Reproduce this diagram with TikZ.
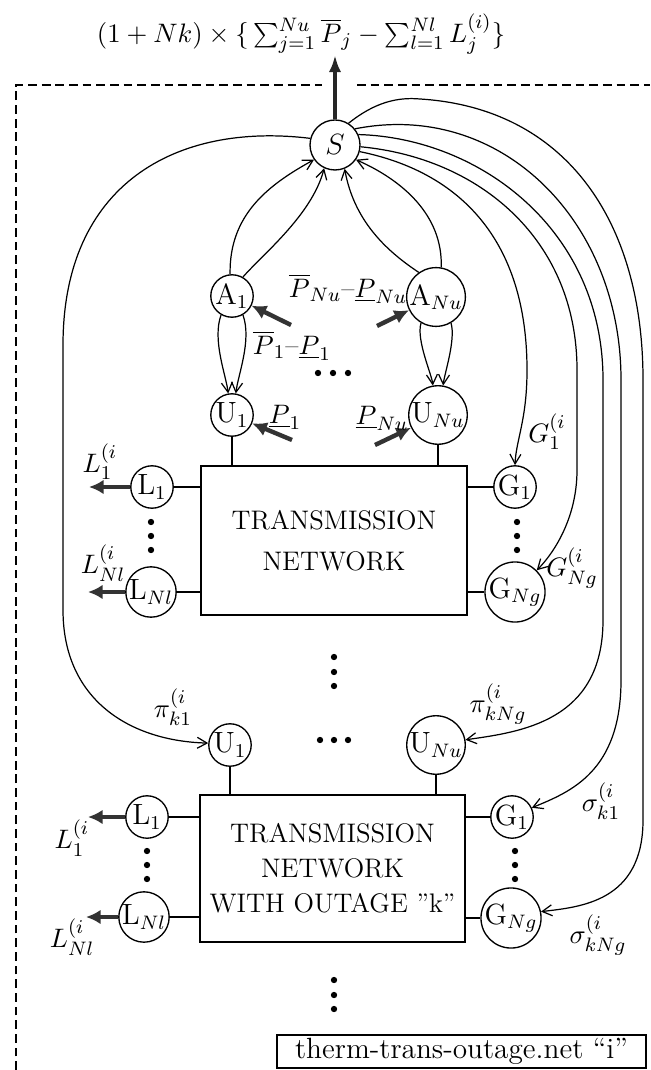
\documentclass[tikz,border=0pt]{standalone}
\usetikzlibrary{arrows.meta}
\begin{document}
\begin{tikzpicture}[x=0.41pt,y=-0.41pt,
  every node/.style={font=\fontsize{11}{13}\selectfont},
  circ/.style={circle,draw,line width=0.55pt,minimum size=17.4pt,inner sep=0pt,font=\fontsize{12}{14}\selectfont},
  bigcirc/.style={circ,minimum size=20.5pt},
  net/.style={draw,line width=0.85pt,inner sep=0pt,align=center},
  stub/.style={line width=0.9pt},
  arr/.style={line width=0.5pt,-{Straight Barb[length=4pt,width=4.5pt]}},
  fat/.style={line width=1.8pt,draw=black!80,-{Latex[length=6pt,width=6pt]}},
  dframe/.style={line width=0.5pt,dash pattern=on 3.6pt off 2pt},
  lbl/.style={inner sep=0pt}
]
\useasboundingbox (0,0) rectangle (650,1070);

% frame
\draw[dframe] (16,1070) -- (16,85) -- (322,85);
\draw[dframe] (357,85) -- (650,85);

% objective
\node[lbl] (obj) at (301,34) {$(1+Nk)\times\{\,\sum_{j=1}^{Nu}\overline{P}_j-\sum_{l=1}^{Nl}L_j^{(i)}\}$};

% nodes
\node[bigcirc] (S) at (335,145) {$S$};
\node[circ] (A1) at (232,296) {A$_1$};
\node[circ] (AN) at (436,297) {A$_{Nu}$};
\node[circ] (U1) at (232,415) {U$_1$};
\node[circ] (UN) at (438,415) {U$_{Nu}$};
\node[net,minimum width=109.1pt,minimum height=61.1pt,font=\fontsize{11}{16.8}\selectfont] (R1) at (334,540.5) {TRANSMISSION\\NETWORK};
\node[circ] (L1) at (152,487) {L$_1$};
\node[circ] (LN) at (151,592) {L$_{Nl}$};
\node[circ] (G1) at (515,487) {G$_1$};
\node[circ] (GN) at (515,592) {G$_{Ng}$};

\node[circ] (U1b) at (230,745) {U$_1$};
\node[circ] (UNb) at (436,745) {U$_{Nu}$};
\node[net,minimum width=108.7pt,minimum height=60.3pt,font=\fontsize{11}{14.4}\selectfont] (R2) at (332.5,868.5) {TRANSMISSION\\NETWORK\\WITH OUTAGE ''k''};
\node[circ] (L1b) at (147,817) {L$_1$};
\node[circ] (LNb) at (144,917) {L$_{Nl}$};
\node[circ] (G1b) at (512,817) {G$_1$};
\node[circ] (GNb) at (511,918) {G$_{Ng}$};

\node[draw,line width=0.8pt,minimum width=151.3pt,minimum height=13.5pt,inner sep=0pt,font=\fontsize{12}{14}\selectfont] (tag) at (461.5,1051.5) {therm-trans-outage.net ``i''};

% stubs
\draw[stub] (U1) -- (U1 |- R1.north);
\draw[stub] (UN) -- (UN |- R1.north);
\draw[stub] (L1) -- (L1 -| R1.west);
\draw[stub] (LN) -- (LN -| R1.west);
\draw[stub] (G1) -- (G1 -| R1.east);
\draw[stub] (GN) -- (GN -| R1.east);
\draw[stub] (U1b) -- (U1b |- R2.north);
\draw[stub] (UNb) -- (UNb |- R2.north);
\draw[stub] (L1b) -- (L1b -| R2.west);
\draw[stub] (LNb) -- (LNb -| R2.west);
\draw[stub] (G1b) -- (G1b -| R2.east);
\draw[stub] (GNb) -- (GNb -| R2.east);

% output arrow
\coordinate (top) at (335,55);
\draw[line width=1.6pt,draw=black!85,-{Latex[length=7pt,width=5pt]}] (S) -- (top);

% A -> S
\draw[arr] (A1.95) .. controls (229,215) and (268,185) .. (S.215);
\draw[arr] (A1.60) .. controls (262,255) and (312,215) .. (S.245);
\draw[arr] (AN.80) .. controls (443,215) and (402,180) .. (S.325);
\draw[arr] (AN.125) .. controls (385,250) and (354,220) .. (S.292);

% A -> U
\draw[arr] (A1.240) .. controls (212,340) and (226,375) .. (U1.100);
\draw[arr] (A1.300) .. controls (252,340) and (238,375) .. (U1.80);
\draw[arr] (AN.240) .. controls (416,340) and (432,375) .. (UN.100);
\draw[arr] (AN.300) .. controls (456,340) and (444,375) .. (UN.80);

% S -> left -> U1b
\draw[arr] (S.165) .. controls (175,122) and (63,185) .. (63,345) -- (63,610)
   .. controls (63,700) and (130,741) .. (U1b.175);
% S -> G1
\draw[arr] (S.-15) .. controls (460,172) and (527,240) .. (527,370)
   .. controls (527,420) and (516,440) .. (G1.north);
% S -> GN
\draw[arr] (S.-4) .. controls (480,158) and (577,240) .. (577,370) -- (577,470)
   .. controls (577,520) and (552,555) .. (GN.45);
% S -> UNb
\draw[arr] (S.24) .. controls (480,138) and (603,230) .. (603,380) -- (603,620)
   .. controls (603,722) and (520,732) .. (UNb.10);
% S -> G1b
\draw[arr] (S.39) .. controls (500,100) and (621,220) .. (621,380) -- (621,680)
   .. controls (621,772) and (570,792) .. (G1b.25);
% S -> GNb
\draw[arr] (S.58) .. controls (375,102) and (398,97) .. (420,99)
   .. controls (565,108) and (643,220) .. (643,380) -- (643,820)
   .. controls (643,902) and (580,907) .. (GNb.12);

% fat arrows
\coordinate (tA1) at (291,325);
\coordinate (tAN) at (377,326);
\coordinate (tU1) at (292,440);
\coordinate (tUN) at (375,445);
\draw[fat] (tA1) -- (A1);
\draw[fat] (tAN) -- (AN);
\draw[fat] (tU1) -- (U1);
\draw[fat] (tUN) -- (UN);
\coordinate (eL1) at (89,487);
\coordinate (eLN) at (88,592);
\coordinate (eL1b) at (88,817);
\coordinate (eLNb) at (86,917);
\draw[fat] (L1) -- (eL1);
\draw[fat] (LN) -- (eLN);
\draw[fat] (L1b) -- (eL1b);
\draw[fat] (LNb) -- (eLNb);

% labels
\node[lbl] (pN) at (348,289) {$\overline{P}_{Nu}\mbox{--}\underline{P}_{Nu}$};
\node[lbl] (p1) at (292,346) {$\overline{P}_1\mbox{--}\underline{P}_1$};
\node[lbl] (q1) at (285,417) {$\underline{P}_1$};
\node[lbl] (qN) at (382,418) {$\underline{P}_{Nu}$};
\node[lbl] (lL1) at (100,462) {$L_1^{(i}$};
\node[lbl] (lLN) at (103,563) {$L_{Nl}^{(i}$};
\node[lbl] (lG1) at (547,432) {$G_1^{(i}$};
\node[lbl] (lGN) at (572,568) {$G_{Ng}^{(i}$};
\node[lbl] (lpi1) at (173,707) {$\pi_{k1}^{(i}$};
\node[lbl] (lpiN) at (498,704) {$\pi_{kNg}^{(i}$};
\node[lbl] (lL1b) at (72,838) {$L_1^{(i}$};
\node[lbl] (lLNb) at (72,937) {$L_{Nl}^{(i}$};
\node[lbl] (ls1) at (601,801) {$\sigma_{k1}^{(i}$};
\node[lbl] (lsN) at (598,935) {$\sigma_{kNg}^{(i}$};

% dots
\foreach \x in {318,333,348} \fill (\x,373) circle[radius=1.3pt];
\foreach \x in {320,334,348} \fill (\x,740) circle[radius=1.3pt];
\foreach \y in {522,536,550} {\fill (151,\y) circle[radius=1.3pt]; \fill (517,\y) circle[radius=1.3pt];}
\foreach \y in {851,865,879} {\fill (147,\y) circle[radius=1.3pt]; \fill (515,\y) circle[radius=1.3pt];}
\foreach \y in {657,672,686} \fill (334,\y) circle[radius=1.3pt];
\foreach \y in {980,995,1009} \fill (334,\y) circle[radius=1.3pt];
\end{tikzpicture}
\end{document}
